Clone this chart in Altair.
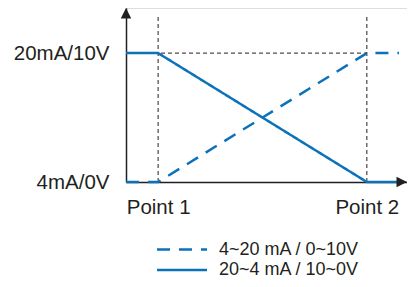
import altair as alt
import pandas as pd

BLUE = "#0b72b9"
INK = "#231f20"
FONT = "Liberation Sans"

# ---- data ----
series_names = ["4~20 mA / 0~10V", "20~4 mA / 10~0V"]
series_dash = [[13, 9], [1, 0]]
x_pts = [0, 1, 7.5, 8.5]          # origin, Point 1, Point 2, line end
y_rising = [4, 4, 20, 20]         # mA
y_falling = [20, 20, 4, 4]        # mA

point_x = [1, 7.5]
point_labels = ["Point 1", "Point 2"]
level_y = [4, 20]
level_labels = ["4mA/0V", "20mA/10V"]

x_max = 8.75
y_min, y_max = 4, 25.6
guide_top = 24.7

# ---- tables ----
rows = []
for s, ys in zip(series_names, [y_rising, y_falling]):
    for i, (x, y) in enumerate(zip(x_pts, ys)):
        rows.append({"x": x, "y": y, "series": s, "order": i})
lines_df = pd.DataFrame(rows)

vguide_df = pd.DataFrame({"x": point_x, "y": [y_min] * len(point_x), "y2": [guide_top] * len(point_x)})
hguide_df = pd.DataFrame({"x": [0], "x2": [point_x[-1]], "y": [level_y[-1]]})
up_arrow_df = pd.DataFrame({"x": [0], "y": [y_max]})
right_arrow_df = pd.DataFrame({"x": [x_max], "y": [y_min]})


def label_expr(values, labels):
    expr = "''"
    for v, l in reversed(list(zip(values, labels))):
        expr = f"datum.value == {v} ? '{l}' : ({expr})"
    return expr


x_axis = alt.Axis(values=point_x, labelExpr=label_expr(point_x, point_labels), title=None,
                  ticks=False, tickSize=0, grid=False, domainColor=INK, domainWidth=1.5,
                  labelFontSize=20.5, labelFont=FONT, labelColor=INK, labelPadding=15,
                  labelAngle=0, labelFlush=False, labelOverlap=False)
y_axis = alt.Axis(values=level_y, labelExpr=label_expr(level_y, level_labels), title=None,
                  ticks=False, tickSize=0, grid=False, domainColor=INK, domainWidth=1.5,
                  labelFontSize=20.5, labelFont=FONT, labelColor=INK, labelPadding=17,
                  labelFlush=False, labelOverlap=False)

x_scale = alt.Scale(domain=[0, x_max], nice=False, zero=False)
y_scale = alt.Scale(domain=[y_min, y_max], nice=False, zero=False)
dash_scale = alt.Scale(domain=series_names, range=series_dash)

X = alt.X("x:Q", scale=x_scale, axis=x_axis)
Y = alt.Y("y:Q", scale=y_scale, axis=y_axis)

vguides = alt.Chart(vguide_df).mark_rule(color=INK, strokeWidth=1, strokeDash=[4, 3]).encode(
    x=X, y=Y, y2="y2:Q")
hguide = alt.Chart(hguide_df).mark_rule(color=INK, strokeWidth=1, strokeDash=[4, 3]).encode(
    x=X, x2="x2:Q", y=Y)

lines = alt.Chart(lines_df).mark_line(color=BLUE, strokeWidth=2.5).encode(
    x=X, y=Y, order="order:Q",
    strokeDash=alt.StrokeDash("series:N", scale=dash_scale, legend=None),
)

up_arrow = alt.Chart(up_arrow_df).mark_point(
    shape="M0,0L-1,2L1,2Z", size=110, filled=True, color=INK, opacity=1).encode(x=X, y=Y)
right_arrow = alt.Chart(right_arrow_df).mark_point(
    shape="M0,0L-2,-1L-2,1Z", size=110, filled=True, color=INK, opacity=1).encode(x=X, y=Y)

# ---- legend (drawn below the plot) ----
legend_layers = []
for i, name in enumerate(series_names):
    ldf = pd.DataFrame({"series": [name]})
    ypos = 241.5 + 20.5 * i
    legend_layers.append(
        alt.Chart(ldf).mark_rule(color=BLUE, strokeWidth=2.5).encode(
            x=alt.value(31), x2=alt.value(81), y=alt.value(ypos),
            strokeDash=alt.StrokeDash("series:N", scale=dash_scale, legend=None))
    )
    legend_layers.append(
        alt.Chart(ldf).mark_text(align="left", baseline="middle", fontSize=18, font=FONT,
                                 color=INK).encode(
            x=alt.value(93), y=alt.value(ypos), text="series:N")
    )

chart = alt.layer(vguides, hguide, lines, up_arrow, right_arrow, *legend_layers).properties(
    width=281, height=174,
    padding={"left": 118, "top": 0, "right": 0, "bottom": 97},
    autosize=alt.AutoSizeParams(type="none"),
).configure_view(stroke=None).configure(font=FONT)

chart.save("out.html", embed_options={"renderer": "svg", "actions": False})
